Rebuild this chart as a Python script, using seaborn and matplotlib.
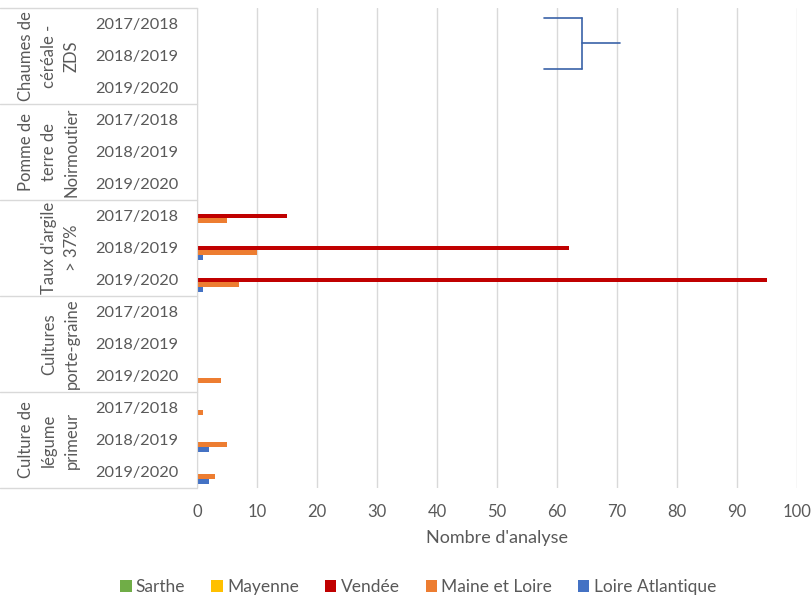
import pandas as pd
import numpy as np
import matplotlib.pyplot as plt
import seaborn as sns
from matplotlib.lines import Line2D

sns.set_style("white")
plt.rcParams['font.family'] = ['Lato', 'DejaVu Sans']

# --- data ---
groups = ["Chaumes de\ncéréale -\nZDS", "Pomme de\nterre de\nNoirmoutier", "Taux d'argile\n> 37%",
          "Cultures\nporte-graine", "Culture de\nlégume\nprimeur"]
years = ["2017/2018", "2018/2019", "2019/2020"]
series = ["Sarthe", "Mayenne", "Vendée", "Maine et Loire", "Loire Atlantique"]
colors = ["#70AD47", "#FFC000", "#C00000", "#ED7D31", "#4472C4"]

# 15 rows, top to bottom (group x year)
sarthe = [0, 0, 0, 0, 0, 0, 0, 0, 0, 0, 0, 0, 0, 0, 0]
mayenne = [0, 0, 0, 0, 0, 0, 0, 0, 0, 0, 0, 0, 0, 0, 0]
vendee = [0, 0, 0, 0, 0, 0, 15, 62, 95, 0, 0, 0, 0, 0, 0]
maine_loire = [0, 0, 0, 0, 0, 0, 5, 10, 7, 0, 0, 4, 1, 5, 3]
loire_atl = [0, 0, 0, 0, 0, 0, 0, 1, 1, 0, 0, 0, 0, 2, 2]

rows = [f"{g}|{y}" for g in groups for y in years]
df = pd.DataFrame({"row": rows, "Sarthe": sarthe, "Mayenne": mayenne, "Vendée": vendee,
                   "Maine et Loire": maine_loire, "Loire Atlantique": loire_atl})
long_df = df.melt(id_vars="row", var_name="serie", value_name="n")

txt = "#595959"
fig = plt.figure(figsize=(8.12, 5.97), dpi=100)
ax = fig.add_axes([197 / 812, 1 - 488 / 597, 600 / 812, 480 / 597])

sns.barplot(data=long_df, y="row", x="n", hue="serie", order=rows, hue_order=series,
            palette=colors, orient="h", width=0.72, gap=0, saturation=1, linewidth=0, ax=ax)

ax.set_xlim(0, 100)
ax.set_xticks(range(0, 101, 10))
ax.set_ylim(14.5, -0.5)
ax.set_yticks(range(len(rows)))
ax.set_yticklabels([r.split("|")[1] for r in rows])
ax.tick_params(axis="y", length=0, pad=13.5, labelsize=11.8, labelcolor=txt)
ax.tick_params(axis="x", length=0, pad=11.5, labelsize=12, labelcolor=txt)
ax.set_ylabel("")
ax.set_xlabel("Nombre d'analyse", fontsize=13, color=txt, labelpad=7)
ax.grid(axis="x", color="#d9d9d9", lw=1)
ax.set_axisbelow(True)
for s in ["top", "right", "bottom"]:
    ax.spines[s].set_visible(False)
ax.spines["left"].set_color("#d9d9d9")

# group separators and group labels
tr = ax.get_yaxis_transform()
for k in range(len(groups) + 1):
    yb = k * 3 - 0.5
    ax.plot([-0.328, 0], [yb, yb], color="#d9d9d9", lw=1, transform=tr, clip_on=False)
for k, g in enumerate(groups):
    ax.text(-0.195, k * 3 + 1, g, transform=tr, rotation=90, ha="right", va="center",
            multialignment="center", fontsize=12, color=txt, linespacing=1.55)

# legend
handles, labels = ax.get_legend_handles_labels()
ax.get_legend().remove()
fig.legend(handles, labels, loc="center", bbox_to_anchor=(0.515, 0.017), ncol=5, frameon=False,
           fontsize=12.5, labelcolor=txt, handlelength=0.65, handleheight=0.65,
           handletextpad=0.25, columnspacing=1.5)

# stray connector shape in the top right
W, H = 812, 597
for (x0, y0, x1, y1) in [(544, 18, 582, 18), (582, 18, 582, 69), (582, 43, 620, 43), (544, 69, 582, 69)]:
    fig.add_artist(Line2D([x0 / W, x1 / W], [1 - y0 / H, 1 - y1 / H], color="#3A62A8",
                          lw=1.2, transform=fig.transFigure))

plt.savefig("out.png", dpi=100)
